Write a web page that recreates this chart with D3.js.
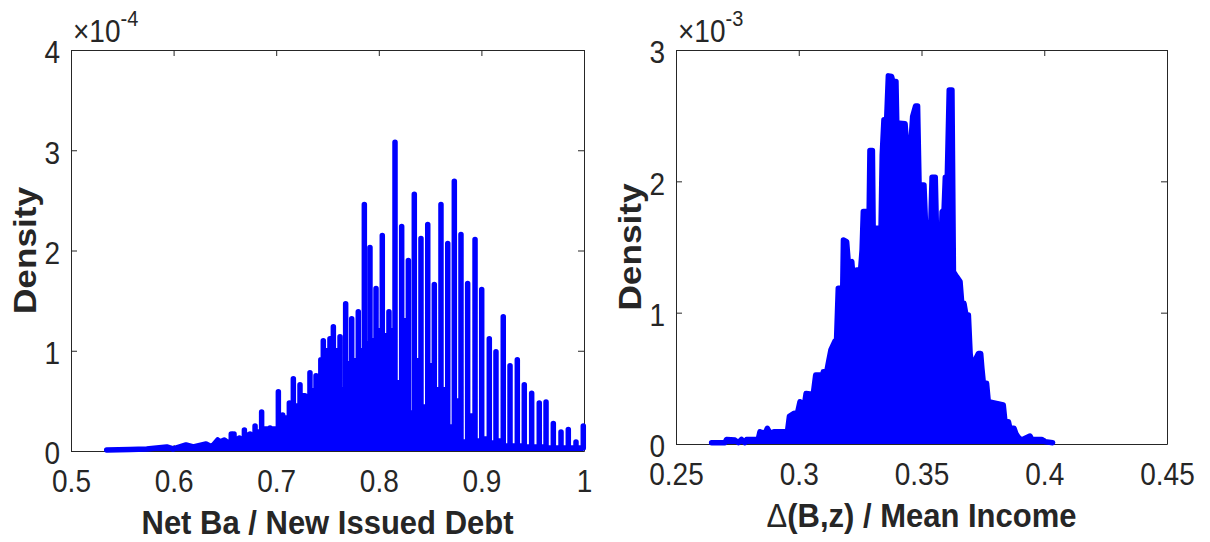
<!DOCTYPE html>
<html><head><meta charset="utf-8">
<script src="https://cdn.jsdelivr.net/npm/d3@7"></script>
<style>
body{margin:0;background:#fff}
svg{display:block}
text{font-family:"Liberation Sans",Arial,Helvetica,sans-serif}
</style>
</head><body>
<svg id="c" width="1210" height="542"></svg>
<script>
// ---------- Left panel data (density in units of 1e-4) ----------
const leftXTicks = [0.5, 0.6, 0.7, 0.8, 0.9, 1];
const leftXTickLabels = ["0.5", "0.6", "0.7", "0.8", "0.9", "1"];
const leftYTicks = [0, 1, 2, 3, 4];
const leftYTickLabels = ["0", "1", "2", "3", "4"];
const leftTailX = [0.5348, 0.5575, 0.5738, 0.5933, 0.5997, 0.6121, 0.6192, 0.6316, 0.6371, 0.6430, 0.6452, 0.6494, 0.6533];
const leftTailY = [0.01, 0.015, 0.02, 0.04, 0.02, 0.06, 0.04, 0.07, 0.04, 0.11, 0.09, 0.11, 0.08];
const leftSpikeX = [0.6562, 0.6589, 0.6641, 0.6690, 0.6745, 0.6794, 0.6858, 0.6940, 0.7021, 0.7063,
  0.7128, 0.7167, 0.7232, 0.7280, 0.7329, 0.7388, 0.7435, 0.7459, 0.7524, 0.7557,
  0.7622, 0.7677, 0.7736, 0.7800, 0.7859, 0.7914, 0.7973, 0.8034, 0.8099, 0.8158,
  0.8223, 0.8288, 0.8346, 0.8411, 0.8477, 0.8541, 0.8606, 0.8672, 0.8736, 0.8801,
  0.8866, 0.8938, 0.9003, 0.9077, 0.9142, 0.9213, 0.9279, 0.9350, 0.9418, 0.9490,
  0.9564, 0.9630, 0.9701, 0.9776, 0.9847, 0.9922, 0.9993];
const leftSpikePeak = [0.17, 0.17, 0.13, 0.21, 0.17, 0.25, 0.39, 0.23, 0.59, 0.36,
  0.48, 0.72, 0.66, 0.55, 0.78, 0.75, 0.91, 1.10, 1.12, 1.24,
  1.14, 1.47, 1.32, 1.39, 2.46, 2.03, 1.62, 2.15, 1.39, 3.08,
  2.24, 1.90, 2.56, 2.12, 2.26, 1.66, 2.46, 2.07, 2.69, 2.16,
  1.67, 2.11, 1.61, 1.12, 0.99, 1.34, 0.85, 0.91, 0.66, 0.575,
  0.48, 0.49, 0.275, 0.19, 0.215, 0.09, 0.25];
const leftSpikeFloor = [0.13, 0.12, 0.12, 0.16, 0.16, 0.19, 0.22, 0.22, 0.30, 0.33,
  0.42, 0.45, 0.55, 0.52, 0.60, 0.70, 0.88, 1.00, 1.05, 1.00,
  0.61, 0.87, 0.90, 1.00, 1.07, 1.10, 1.20, 1.15, 1.20, 0.68,
  1.30, 0.38, 0.90, 0.44, 0.85, 0.61, 0.61, 0.24, 0.50, 0.09,
  0.35, 0.10, 0.12, 0.08, 0.10, 0.05, 0.05, 0.05, 0.04, 0.04,
  0.04, 0.03, 0.03, 0.03, 0.03, 0.03, 0.03];

// ---------- Right panel data (density in units of 1e-3) ----------
const rightXTicks = [0.25, 0.3, 0.35, 0.4, 0.45];
const rightXTickLabels = ["0.25", "0.3", "0.35", "0.4", "0.45"];
const rightYTicks = [0, 1, 2, 3];
const rightYTickLabels = ["0", "1", "2", "3"];
const rightX = [0.2645, 0.2700, 0.2706, 0.2740, 0.2754, 0.2767, 0.2781, 0.2788, 0.2835, 0.2842,
  0.2863, 0.2872, 0.2883, 0.2899, 0.2954, 0.2962, 0.2981, 0.2992, 0.3005, 0.3016,
  0.3030, 0.3059, 0.3069, 0.3089, 0.3093, 0.3100, 0.3114, 0.3123, 0.3131, 0.3148,
  0.3154, 0.3161, 0.3171, 0.3176, 0.3182, 0.3195, 0.3202, 0.3216, 0.3225, 0.3236,
  0.3252, 0.3258, 0.3263, 0.3279, 0.3285, 0.3290, 0.3300, 0.3304, 0.3311, 0.3328,
  0.3334, 0.3340, 0.3347, 0.3358, 0.3365, 0.3378, 0.3383, 0.3396, 0.3402, 0.3410,
  0.3433, 0.3440, 0.3456, 0.3464, 0.3476, 0.3484, 0.3491, 0.3501, 0.3510, 0.3516,
  0.3528, 0.3537, 0.3543, 0.3556, 0.3562, 0.3573, 0.3578, 0.3584, 0.3592, 0.3597,
  0.3605, 0.3613, 0.3624, 0.3630, 0.3643, 0.3657, 0.3664, 0.3673, 0.3681, 0.3691,
  0.3698, 0.3704, 0.3714, 0.3722, 0.3732, 0.3741, 0.3746, 0.3752, 0.3765, 0.3772,
  0.3833, 0.3840, 0.3854, 0.3860, 0.3877, 0.3884, 0.3892, 0.3898, 0.3908, 0.3942,
  0.3949, 0.3989, 0.4003, 0.4034];
const rightY = [0.01, 0.01, 0.035, 0.03, 0.01, 0.035, 0.01, 0.035, 0.035, 0.093,
  0.081, 0.119, 0.081, 0.093, 0.093, 0.21, 0.233, 0.21, 0.322, 0.21,
  0.385, 0.377, 0.525, 0.525, 0.449, 0.55, 0.55, 0.64, 0.716, 0.784,
  0.792, 1.185, 1.185, 0.792, 1.553, 1.541, 1.376, 1.388, 1.172, 1.325,
  1.325, 1.477, 1.77, 1.77, 1.503, 2.234, 2.234, 1.477, 1.642, 1.642,
  1.503, 2.201, 2.468, 2.468, 2.803, 2.798, 2.76, 2.76, 2.176, 2.443,
  2.438, 2.26, 2.265, 2.493, 2.574, 2.574, 1.884, 1.973, 1.973, 1.693,
  1.681, 1.604, 2.031, 2.031, 1.541, 1.414, 1.427, 1.77, 1.782, 2.031,
  2.031, 2.696, 2.696, 1.312, 1.274, 1.236, 1.071, 1.071, 0.982, 0.982,
  0.69, 0.601, 0.601, 0.652, 0.69, 0.69, 0.576, 0.462, 0.462, 0.322,
  0.297, 0.17, 0.17, 0.119, 0.119, 0.081, 0.056, 0.043, 0.03, 0.061,
  0.035, 0.035, 0.018, 0.01];

// ---------- build outline points ----------
const leftPts = leftTailX.map((x, i) => [x, leftTailY[i]]);
let prev = leftTailY[leftTailY.length - 1];
leftSpikeX.forEach((x, i) => {
  leftPts.push([x, prev], [x, leftSpikePeak[i]], [x, leftSpikeFloor[i]]);
  prev = leftSpikeFloor[i];
});
const rightPts = rightX.map((x, i) => [x, rightY[i]]);

const svg = d3.select('#c');
const INK = '#262626';
const BLUE = '#0000ff';
const STRETCH = 1.1; // glyphs in the reference are slightly taller than wide

function panel(o) {
  const x = d3.scaleLinear().domain(o.xDomain).range([o.left, o.right]);
  const y = d3.scaleLinear().domain(o.yDomain).range([o.bottom, o.top]);
  const g = svg.append('g');

  const styleAxis = sel => {
    sel.attr('font-size', 28).attr('font-family', '"Liberation Sans",Arial,Helvetica,sans-serif').attr('color', INK);
    sel.selectAll('.domain').attr('stroke-width', 1);
    sel.selectAll('.tick line').attr('stroke-width', 1);
  };
  const xa = g.append('g').attr('transform', `translate(0,${o.bottom})`)
    .call(d3.axisBottom(x).tickValues(o.xTicks).tickFormat((d, i) => o.xLabels[i])
      .tickSizeInner(-6).tickSizeOuter(0).tickPadding(17.4)).call(styleAxis);
  xa.selectAll('.tick text').attr('transform', `scale(1,${STRETCH})`);
  g.append('g').attr('transform', `translate(0,${o.top})`)
    .call(d3.axisTop(x).tickValues(o.xTicks).tickFormat('')
      .tickSizeInner(-6).tickSizeOuter(0)).call(styleAxis);
  const ya = g.append('g').attr('transform', `translate(${o.left},0)`)
    .call(d3.axisLeft(y).tickValues(o.yTicks).tickFormat((d, i) => o.yLabels[i])
      .tickSizeInner(-6).tickSizeOuter(0).tickPadding(11)).call(styleAxis);
  ya.selectAll('.tick text').attr('dy', '0.42em').attr('transform', `scale(1,${STRETCH})`);
  g.append('g').attr('transform', `translate(${o.right},0)`)
    .call(d3.axisRight(y).tickValues(o.yTicks).tickFormat('')
      .tickSizeInner(-6).tickSizeOuter(0)).call(styleAxis);

  // data: solid area under the trace plus the thick trace itself
  const area = d3.area().x(d => x(d[0])).y0(y(0)).y1(d => y(d[1]));
  const line = d3.line().x(d => x(d[0])).y(d => y(d[1]));
  g.append('path').datum(o.pts).attr('d', area).attr('fill', BLUE);
  g.append('path').datum(o.pts).attr('d', line).attr('fill', 'none')
    .attr('stroke', BLUE).attr('stroke-width', 5.5)
    .attr('stroke-linejoin', 'round').attr('stroke-linecap', 'round');

  // exponent
  const ex = g.append('text').attr('transform', `translate(${o.left + 2},42) scale(1,${STRETCH})`)
    .attr('fill', INK).attr('font-size', 28);
  ex.append('tspan').text('\u00d710');
  ex.append('tspan').attr('font-size', 20).attr('dy', -15).text(o.exp);

  // y label
  g.append('text').attr('transform', `translate(${o.left - 35},${(o.top + o.bottom) / 2}) rotate(-90) scale(${STRETCH},1)`)
    .attr('text-anchor', 'middle').attr('font-size', 32).attr('font-weight', 'bold').attr('fill', INK)
    .text('Density');

  // x label
  const xl = g.append('text').attr('transform', `translate(${(o.left + o.right) / 2},${o.bottom + 83}) scale(1,${STRETCH})`)
    .attr('text-anchor', 'middle').attr('font-size', 31).attr('font-weight', 'bold').attr('fill', INK);
  o.xTitle(xl);
}

panel({
  left: 71, right: 584, top: 50, bottom: 451,
  xDomain: [0.5, 1], yDomain: [0, 4],
  xTicks: leftXTicks, xLabels: leftXTickLabels, yTicks: leftYTicks, yLabels: leftYTickLabels,
  pts: leftPts, exp: '-4',
  xTitle: t => t.text('Net Ba / New Issued Debt')
});
panel({
  left: 676, right: 1167, top: 50, bottom: 444,
  xDomain: [0.25, 0.45], yDomain: [0, 3],
  xTicks: rightXTicks, xLabels: rightXTickLabels, yTicks: rightYTicks, yLabels: rightYTickLabels,
  pts: rightPts, exp: '-3',
  xTitle: t => { t.append('tspan').attr('font-weight', 'normal').text('\u0394'); t.append('tspan').text('(B,z) / Mean Income'); }
});
</script>
</body></html>
